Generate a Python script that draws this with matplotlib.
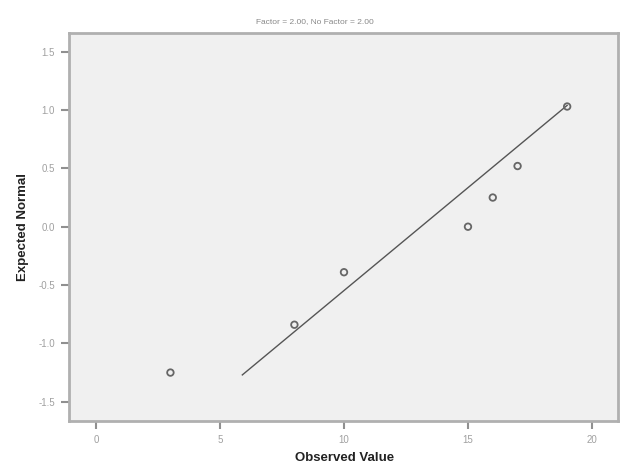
import matplotlib
matplotlib.use("Agg")
import matplotlib.pyplot as plt

# Data
observed = [3, 8, 10, 15, 16, 17, 19]
expected = [-1.25, -0.84, -0.39, 0.0, 0.25, 0.52, 1.03]
line_x = [5.9, 19.0]
line_y = [-1.27, 1.04]
x_ticks = [0, 5, 10, 15, 20]
y_ticks = [-1.5, -1.0, -0.5, 0.0, 0.5, 1.0, 1.5]
title = "Factor = 2.00, No Factor = 2.00"

plt.rcParams['font.family'] = ['Liberation Sans', 'DejaVu Sans']

fig = plt.figure(figsize=(6.25, 4.72), dpi=100)
fig.patch.set_facecolor('white')
ax = fig.add_axes([69/625, 1-421/472, (618-69)/625, (421-33)/472])
ax.set_facecolor('#f0f0f0')

ax.plot(line_x, line_y, color='#555555', lw=1.0, zorder=2)
ax.scatter(observed, expected, s=22, facecolors='none', edgecolors='#666666',
           linewidths=1.3, zorder=3)

ax.set_xlim(-1.09, 21.05)
ax.set_ylim(-1.665, 1.66)
ax.set_xticks(x_ticks)
ax.set_xticklabels([str(t) for t in x_ticks])
ax.set_yticks(y_ticks)
ax.set_yticklabels([f"{t:.1f}" for t in y_ticks])

for s in ax.spines.values():
    s.set_color('#b0b0b0')
    s.set_linewidth(2)
ax.tick_params(axis='both', direction='out', length=6, width=1.5,
               color='#909090', labelcolor='#a0a0a0', labelsize=7, pad=4)

ax.set_xlabel("Observed Value", fontsize=9.5, fontweight='bold', color='#222222')
ax.set_ylabel("Expected Normal", fontsize=9.5, fontweight='bold', color='#222222')
ax.xaxis.set_label_coords((345-69)/549, (421-452)/388)
ax.yaxis.set_label_coords((29-69)/549, 0.5)

fig.text(315/625, 1-22/472, title, ha='center', va='center', fontsize=6, color='#888888')

fig.savefig("out.png", dpi=100)
